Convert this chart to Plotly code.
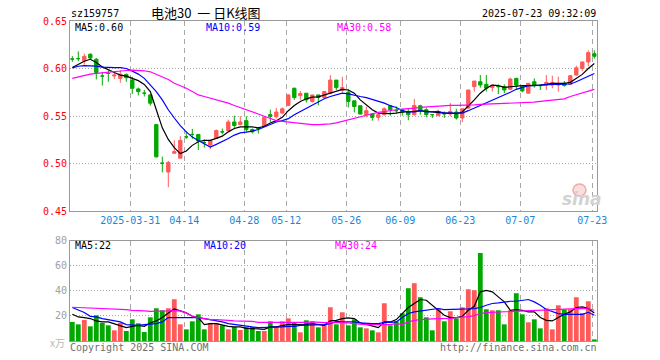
import plotly.graph_objects as go

# ---------------- data ----------------
dates = (
    ["2025-03-%02d" % d for d in [17, 18, 19, 20, 21, 24, 25, 26, 27, 28, 31]]
    + ["2025-04-%02d" % d for d in [1, 2, 3, 7, 8, 9, 10, 11, 14, 15, 16, 17, 18, 21, 22, 23, 24, 25, 28, 29, 30]]
    + ["2025-05-%02d" % d for d in [6, 7, 8, 9, 12, 13, 14, 15, 16, 19, 20, 21, 22, 23, 26, 27, 28, 29, 30]]
    + ["2025-06-%02d" % d for d in [3, 4, 5, 6, 9, 10, 11, 12, 13, 16, 17, 18, 19, 20, 23, 24, 25, 26, 27, 30]]
    + ["2025-07-%02d" % d for d in [1, 2, 3, 4, 7, 8, 9, 10, 11, 14, 15, 16, 17, 18, 21, 22, 23]]
)

open_ = [0.6100, 0.6104, 0.6080, 0.6150, 0.6097, 0.5920, 0.5948, 0.5922, 0.5896, 0.5938,
         0.5878, 0.5785, 0.5740, 0.5722, 0.5410, 0.5003, 0.4910, 0.5108, 0.5056, 0.5280,
         0.5306, 0.5306, 0.5220, 0.5194, 0.5264, 0.5333, 0.5347, 0.5437, 0.5410, 0.5451,
         0.5358, 0.5368, 0.5392, 0.5514, 0.5493, 0.5531, 0.5611, 0.5792, 0.5715, 0.5740,
         0.5653, 0.5722, 0.5694, 0.5740, 0.5878, 0.5771, 0.5750, 0.5660, 0.5608, 0.5514,
         0.5521, 0.5486, 0.5514, 0.5608, 0.5556, 0.5566, 0.5549, 0.5514, 0.5608, 0.5566,
         0.5514, 0.5503, 0.5524, 0.5521, 0.5542, 0.5479, 0.5583, 0.5809, 0.5861, 0.5833,
         0.5799, 0.5809, 0.5809, 0.5781, 0.5896, 0.5809, 0.5740, 0.5861, 0.5820, 0.5826,
         0.5826, 0.5826, 0.5844, 0.5833, 0.5931, 0.6000, 0.6069, 0.6156]
high = [0.6130, 0.6180, 0.6156, 0.6160, 0.6110, 0.5965, 0.5980, 0.5970, 0.5980, 0.5948,
        0.5913, 0.5800, 0.5774, 0.5729, 0.5410, 0.5073, 0.5028, 0.5243, 0.5288, 0.5340,
        0.5365, 0.5306, 0.5254, 0.5243, 0.5358, 0.5368, 0.5462, 0.5503, 0.5497, 0.5497,
        0.5368, 0.5385, 0.5497, 0.5566, 0.5583, 0.5590, 0.5729, 0.5799, 0.5764, 0.5740,
        0.5722, 0.5722, 0.5764, 0.5930, 0.5878, 0.5913, 0.5785, 0.5660, 0.5608, 0.5600,
        0.5531, 0.5524, 0.5590, 0.5618, 0.5600, 0.5576, 0.5576, 0.5680, 0.5618, 0.5583,
        0.5521, 0.5566, 0.5549, 0.5635, 0.5576, 0.5576, 0.5774, 0.5868, 0.5931, 0.5931,
        0.5826, 0.5833, 0.5833, 0.5903, 0.5903, 0.5826, 0.5844, 0.5896, 0.5833, 0.5931,
        0.5924, 0.5913, 0.5868, 0.5931, 0.6028, 0.6069, 0.6191, 0.6191]
low = [0.6070, 0.6076, 0.6040, 0.6097, 0.5885, 0.5820, 0.5860, 0.5890, 0.5850, 0.5860,
       0.5733, 0.5716, 0.5705, 0.5608, 0.5063, 0.4906, 0.4750, 0.5105, 0.5056, 0.5260,
       0.5260, 0.5142, 0.5167, 0.5150, 0.5264, 0.5306, 0.5340, 0.5375, 0.5403, 0.5333,
       0.5316, 0.5316, 0.5382, 0.5437, 0.5472, 0.5517, 0.5604, 0.5670, 0.5670, 0.5642,
       0.5642, 0.5611, 0.5680, 0.5730, 0.5774, 0.5750, 0.5590, 0.5538, 0.5514, 0.5486,
       0.5451, 0.5451, 0.5503, 0.5503, 0.5531, 0.5503, 0.5455, 0.5503, 0.5514, 0.5486,
       0.5480, 0.5503, 0.5480, 0.5496, 0.5462, 0.5434, 0.5576, 0.5757, 0.5799, 0.5757,
       0.5757, 0.5729, 0.5740, 0.5774, 0.5785, 0.5750, 0.5740, 0.5799, 0.5774, 0.5774,
       0.5792, 0.5757, 0.5809, 0.5826, 0.5924, 0.5972, 0.6024, 0.6104]
close = [0.6100, 0.6104, 0.6128, 0.6110, 0.5958, 0.5920, 0.5948, 0.5931, 0.5940, 0.5903,
         0.5792, 0.5757, 0.5740, 0.5635, 0.5070, 0.5003, 0.5010, 0.5125, 0.5243, 0.5280,
         0.5306, 0.5236, 0.5220, 0.5243, 0.5347, 0.5333, 0.5437, 0.5400, 0.5437, 0.5358,
         0.5333, 0.5368, 0.5486, 0.5497, 0.5542, 0.5576, 0.5722, 0.5694, 0.5736, 0.5670,
         0.5722, 0.5694, 0.5757, 0.5878, 0.5799, 0.5799, 0.5653, 0.5600, 0.5521, 0.5556,
         0.5486, 0.5514, 0.5576, 0.5566, 0.5556, 0.5538, 0.5514, 0.5611, 0.5556, 0.5514,
         0.5514, 0.5531, 0.5524, 0.5549, 0.5479, 0.5576, 0.5774, 0.5868, 0.5826, 0.5792,
         0.5826, 0.5809, 0.5774, 0.5889, 0.5826, 0.5764, 0.5844, 0.5820, 0.5820, 0.5854,
         0.5854, 0.5844, 0.5820, 0.5924, 0.6007, 0.6069, 0.6167, 0.6128]

ma5 = [0.6010, 0.6042, 0.6076, 0.6097, 0.6063, 0.6017, 0.5983, 0.5958, 0.5931, 0.5920,
       0.5896, 0.5872, 0.5833, 0.5757, 0.5566, 0.5375, 0.5253, 0.5167, 0.5104, 0.5132,
       0.5191, 0.5229, 0.5243, 0.5243, 0.5264, 0.5288, 0.5333, 0.5368, 0.5385, 0.5385,
       0.5385, 0.5375, 0.5392, 0.5427, 0.5451, 0.5486, 0.5556, 0.5611, 0.5653, 0.5681,
       0.5698, 0.5701, 0.5722, 0.5740, 0.5757, 0.5781, 0.5774, 0.5740, 0.5670, 0.5618,
       0.5566, 0.5531, 0.5524, 0.5524, 0.5531, 0.5542, 0.5542, 0.5549, 0.5556, 0.5549,
       0.5542, 0.5538, 0.5531, 0.5531, 0.5524, 0.5542, 0.5601, 0.5670, 0.5740, 0.5792,
       0.5826, 0.5819, 0.5802, 0.5809, 0.5819, 0.5819, 0.5819, 0.5819, 0.5826, 0.5833,
       0.5844, 0.5844, 0.5844, 0.5854, 0.5896, 0.5938, 0.6000, 0.6052]
ma10 = [0.6007, 0.6024, 0.6031, 0.6031, 0.6024, 0.6014, 0.6010, 0.6010, 0.6010, 0.6000,
        0.5972, 0.5941, 0.5896, 0.5826, 0.5757, 0.5670, 0.5566, 0.5479, 0.5399, 0.5333,
        0.5278, 0.5243, 0.5208, 0.5174, 0.5201, 0.5229, 0.5264, 0.5299, 0.5323, 0.5330,
        0.5340, 0.5358, 0.5382, 0.5410, 0.5437, 0.5451, 0.5472, 0.5514, 0.5549, 0.5583,
        0.5618, 0.5653, 0.5681, 0.5705, 0.5722, 0.5740, 0.5733, 0.5715, 0.5705, 0.5694,
        0.5677, 0.5653, 0.5635, 0.5608, 0.5590, 0.5556, 0.5542, 0.5542, 0.5556, 0.5542,
        0.5542, 0.5549, 0.5531, 0.5531, 0.5531, 0.5531, 0.5556, 0.5583, 0.5611, 0.5642,
        0.5670, 0.5694, 0.5722, 0.5750, 0.5781, 0.5802, 0.5819, 0.5819, 0.5826, 0.5826,
        0.5833, 0.5833, 0.5833, 0.5837, 0.5861, 0.5889, 0.5924, 0.5948]
ma30 = [0.5896, 0.5913, 0.5931, 0.5941, 0.5948, 0.5955, 0.5965, 0.5972, 0.5976, 0.5979,
        0.5983, 0.5983, 0.5976, 0.5965, 0.5938, 0.5913, 0.5885, 0.5844, 0.5819, 0.5792,
        0.5757, 0.5722, 0.5705, 0.5688, 0.5670, 0.5653, 0.5635, 0.5611, 0.5590, 0.5566,
        0.5542, 0.5521, 0.5497, 0.5472, 0.5451, 0.5444, 0.5437, 0.5427, 0.5420, 0.5417,
        0.5410, 0.5410, 0.5410, 0.5417, 0.5427, 0.5444, 0.5462, 0.5479, 0.5497, 0.5514,
        0.5524, 0.5538, 0.5549, 0.5556, 0.5566, 0.5573, 0.5576, 0.5583, 0.5590, 0.5594,
        0.5601, 0.5604, 0.5611, 0.5611, 0.5611, 0.5611, 0.5615, 0.5618, 0.5622, 0.5625,
        0.5625, 0.5628, 0.5632, 0.5632, 0.5635, 0.5635, 0.5642, 0.5646, 0.5653, 0.5660,
        0.5663, 0.5670, 0.5681, 0.5705, 0.5722, 0.5740, 0.5764, 0.5781]

volume = [15.2, 13.3, 16.8, 11.7, 20.5, 14.4, 12.5, 8.5, 14.4, 8.0,
          17.3, 14.1, 7.2, 18.9, 26.1, 24.5, 26.1, 33.3, 13.3, 9.3,
          15.7, 21.3, 9.3, 14.4, 14.4, 12.5, 9.3, 11.2, 8.8, 11.2,
          11.2, 8.0, 8.0, 15.7, 11.7, 15.7, 18.1, 14.4, 6.9, 16.5,
          15.7, 10.9, 13.1, 26.9, 13.3, 22.9, 12.5, 17.3, 10.9, 10.1,
          8.5, 6.9, 30.1, 12.5, 15.7, 22.1, 42.1, 46.1, 34.9, 18.9,
          8.5, 26.1, 15.7, 23.7, 18.1, 26.9, 41.3, 40.5, 70.1, 25.3,
          24.5, 24.5, 13.3, 24.5, 38.1, 21.3, 14.9, 17.3, 10.1, 26.1,
          9.3, 28.5, 25.3, 25.3, 34.9, 22.1, 31.7, 1.3]
vma5 = [21.3, 19.2, 18.7, 17.9, 16.0, 15.2, 15.2, 13.9, 12.5, 10.7,
        11.7, 12.5, 11.7, 14.4, 16.0, 18.7, 22.4, 25.6, 24.0, 22.4,
        19.7, 18.7, 13.1, 13.9, 13.9, 12.5, 11.7, 11.2, 11.2, 10.1,
        10.1, 9.6, 9.3, 11.2, 11.2, 12.5, 13.3, 13.1, 13.1, 13.3,
        13.9, 13.1, 12.5, 16.0, 16.5, 17.9, 18.4, 17.9, 14.4, 13.3,
        11.7, 10.7, 15.2, 15.2, 17.1, 21.9, 26.7, 29.9, 33.1, 32.5,
        28.5, 25.1, 20.5, 18.7, 18.7, 19.7, 24.5, 27.7, 39.2, 40.3,
        39.2, 35.2, 31.2, 24.5, 25.1, 24.5, 23.2, 23.2, 18.7, 16.5,
        16.0, 18.7, 21.3, 23.2, 26.7, 27.2, 25.9, 22.4]
vma10 = [26.7, 24.5, 22.7, 19.7, 19.2, 17.9, 17.1, 16.5, 15.2, 13.1,
         12.5, 12.5, 13.1, 13.3, 13.9, 15.2, 18.7, 18.7, 18.7, 18.7,
         18.7, 18.7, 17.9, 17.1, 16.5, 15.2, 13.9, 13.1, 12.5, 11.7,
         11.2, 10.7, 10.7, 10.7, 10.7, 11.2, 11.7, 11.7, 12.5, 12.5,
         12.8, 12.8, 13.1, 13.9, 15.7, 15.2, 15.2, 15.2, 14.4, 13.9,
         13.9, 13.9, 14.9, 14.9, 15.2, 18.7, 21.9, 23.2, 24.0, 24.5,
         25.1, 25.9, 25.1, 25.1, 25.3, 25.6, 25.6, 25.9, 26.7, 28.5,
         29.9, 30.4, 31.2, 31.7, 31.7, 32.5, 33.1, 31.2, 28.5, 25.1,
         23.2, 21.9, 21.3, 21.1, 21.3, 21.3, 22.9, 20.5]
vma30 = [26.9, 26.7, 26.4, 26.1, 26.1, 25.9, 25.9, 25.9, 25.6, 25.1,
         24.5, 24.0, 24.0, 23.7, 23.7, 23.7, 24.0, 24.3, 24.0, 22.4,
         19.7, 18.7, 17.9, 17.1, 17.1, 16.5, 16.5, 16.0, 16.0, 15.7,
         15.7, 14.9, 14.9, 14.9, 14.4, 14.4, 14.4, 14.4, 14.4, 14.9,
         15.2, 14.9, 14.7, 14.9, 14.9, 14.7, 14.4, 13.9, 13.3, 13.1,
         13.1, 13.1, 13.1, 13.1, 13.9, 13.3, 15.2, 16.5, 17.1, 17.1,
         17.6, 17.9, 17.9, 18.1, 18.7, 18.9, 19.5, 20.3, 21.9, 22.7,
         22.9, 23.2, 23.5, 23.7, 24.0, 24.0, 24.0, 24.3, 24.5, 24.8,
         25.1, 25.1, 25.3, 25.6, 26.1, 26.1, 25.6, 24.5]

tick_dates = ["2025-03-31", "2025-04-14", "2025-04-28", "2025-05-12", "2025-05-26",
              "2025-06-09", "2025-06-23", "2025-07-07", "2025-07-23"]
tick_labels = ["2025-03-31", "04-14", "04-28", "05-12", "05-26", "06-09", "06-23", "07-07", "07-23"]
price_ticks = [0.45, 0.50, 0.55, 0.60, 0.65]
price_tick_labels = ["0.45", "0.50", "0.55", "0.60", "0.65"]
vol_ticks = [20, 40, 60, 80]
vol_tick_labels = ["20", "40", "60", "80"]

legend_price = ["MA5:0.60", "MA10:0.59", "MA30:0.58"]
legend_vol = ["MA5:22", "MA10:20", "MA30:24"]

# ---------------- styling / layout ----------------
W, H = 660, 360
PLOT_L, PLOT_R, PLOT_T, PLOT_B = 70, 597, 21, 341      # plot box in page pixels
L, T = PLOT_L, PLOT_T
R, B = W - PLOT_R, H - PLOT_B
PW, PH = PLOT_R - PLOT_L, PLOT_B - PLOT_T


def px(x):
    return (x - PLOT_L) / PW


def py(y):
    return (PLOT_B - y) / PH


RED = "#ff5a5a"
GREEN = "#00a800"
MONO = "DejaVu Sans Mono"
GRID = "#a8a8a8"
FRAME = "#999999"

idx = list(range(len(dates)))
is_up = [c > o for o, c in zip(open_, close)]
grid_x = [dates.index(d) - 0.34 for d in tick_dates]

fig = go.Figure()

for want, col in ((True, RED), (False, GREEN)):
    sel = [i for i in idx if is_up[i] == want]
    fig.add_trace(go.Candlestick(
        x=[idx[i] for i in sel],
        open=[open_[i] for i in sel], high=[high[i] for i in sel],
        low=[low[i] for i in sel], close=[close[i] for i in sel],
        increasing=dict(line=dict(color=col, width=1), fillcolor=col),
        decreasing=dict(line=dict(color=col, width=1), fillcolor=col),
        whiskerwidth=0, xaxis="x", yaxis="y", hoverinfo="skip", showlegend=False))

for arr, col in ((ma5, "#000000"), (ma10, "#0000ff"), (ma30, "#ff00ff")):
    fig.add_trace(go.Scatter(x=idx, y=arr, mode="lines", line=dict(color=col, width=1.2),
                             xaxis="x", yaxis="y", hoverinfo="skip", showlegend=False))

fig.add_trace(go.Bar(x=idx, y=volume, width=0.8,
                     marker=dict(color=[RED if u else GREEN for u in is_up], line=dict(width=0)),
                     xaxis="x2", yaxis="y2", hoverinfo="skip", showlegend=False))

for arr, col in ((vma5, "#000000"), (vma10, "#0000ff"), (vma30, "#ff00ff")):
    fig.add_trace(go.Scatter(x=idx, y=arr, mode="lines", line=dict(color=col, width=1.2),
                             xaxis="x2", yaxis="y2", hoverinfo="skip", showlegend=False))

xr = [-0.383, len(dates) - 1 + 0.45]
common_x = dict(range=xr, showgrid=True, gridcolor=GRID, griddash="5px,4px", gridwidth=1,
                tickvals=grid_x, showline=True, linecolor=FRAME, linewidth=1, mirror=True,
                ticks="", zeroline=False, fixedrange=True)
common_y = dict(showgrid=True, gridcolor=GRID, griddash="1px,2px", gridwidth=1,
                showline=True, linecolor=FRAME, linewidth=1, mirror=True,
                ticks="", zeroline=False, fixedrange=True, automargin=False)

top_bottom = py(211)
vol_top = py(240.7)

fig.update_layout(
    width=W, height=H, margin=dict(l=L, r=R, t=T, b=B, pad=0),
    paper_bgcolor="white", plot_bgcolor="white",
    boxgap=0.2,
    xaxis=dict(common_x, domain=[0, 1], anchor="y", ticktext=tick_labels,
               tickfont=dict(family=MONO, size=10, color="#1a88d6"),
               rangeslider=dict(visible=False), automargin=False),
    yaxis=dict(common_y, domain=[top_bottom, 1], anchor="x", range=[0.45, 0.65],
               tickvals=price_ticks, ticktext=price_tick_labels,
               tickfont=dict(family=MONO, size=10, color="#ff0000")),
    xaxis2=dict(common_x, domain=[0, 1], anchor="y2", showticklabels=False, automargin=False),
    yaxis2=dict(common_y, domain=[0, vol_top], anchor="x2", range=[0, 80],
                tickvals=vol_ticks, ticktext=vol_tick_labels,
                tickfont=dict(family=MONO, size=10, color="#a0a0a0")),
    bargap=0.2,
)

ann = []


def text(x, y, s, color="#000000", size=10, xanchor="left", family=MONO, **kw):
    ann.append(dict(x=px(x), y=py(y), xref="paper", yref="paper", text=s, showarrow=False,
                    xanchor=xanchor, yanchor="middle", font=dict(family=family, size=size, color=color), **kw))


text(69, 13, "sz159757")
text(206, 12.5, "电池30&nbsp;&nbsp;一&nbsp;日K线图", size=13, xanchor="center", family="Noto Sans CJK SC")
text(598, 13, "2025-07-23 09:32:09", xanchor="right")

for s, x, c in zip(legend_price, (73, 204, 335), ("#000000", "#0000ff", "#ff00ff")):
    text(x, 27, s, color=c)
for s, x, c in zip(legend_vol, (73, 202, 333), ("#000000", "#0000ff", "#ff00ff")):
    text(x, 245.5, s, color=c)

text(67, 342, "x万", color="#b8b8b8", xanchor="right", family="Noto Sans CJK SC")
text(68, 347.5, "Copyright 2025 SINA.COM", color="#707070")
text(599, 347.5, "http://finance.sina.com.cn", color="#707070", xanchor="right")
ann.append(dict(x=px(582), y=py(199), xref="paper", yref="paper", text="<b><i>sina</i></b>",
                showarrow=False, xanchor="center", yanchor="middle",
                font=dict(family="DejaVu Sans", size=17, color="#d2d2d2")))

fig.update_layout(annotations=ann)
fig.add_shape(type="circle", xref="paper", yref="paper",
              x0=px(573), x1=px(586), y0=py(196), y1=py(184),
              line=dict(color="#f0a8a8", width=1.5), fillcolor="rgba(246,200,200,0.6)")

# remove the browser's default 8px page margin so the figure sits at (0, 0)
fig.write_html("out.html", config={"displayModeBar": False, "staticPlot": True},
               post_script="document.body.style.margin='0';")
